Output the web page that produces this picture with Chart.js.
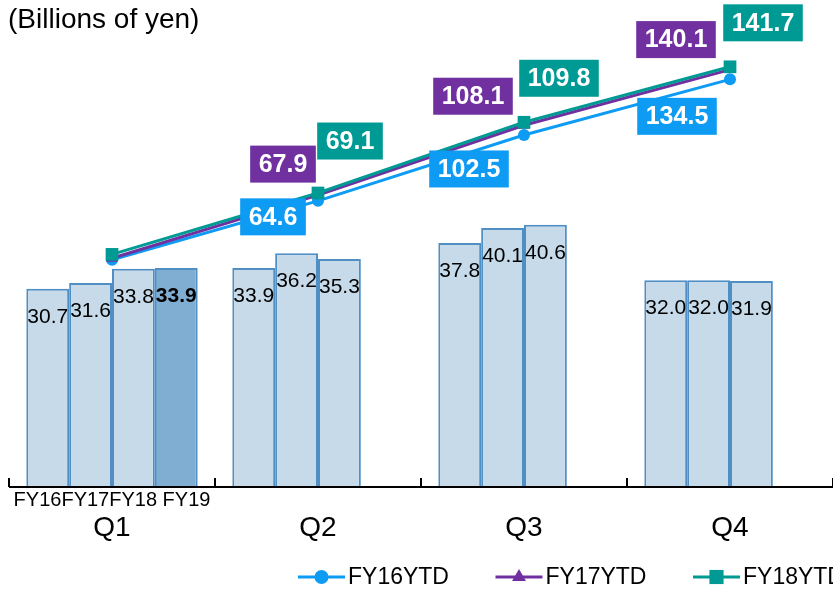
<!DOCTYPE html>
<html>
<head>
<meta charset="utf-8">
<script src="https://cdn.jsdelivr.net/npm/chart.js@4.4.1/dist/chart.umd.min.js"></script>
<style>
  body { margin: 0; background: #fff; }
  #wrap { position: relative; width: 833px; height: 589px; }
  #unit { position: absolute; left: 8px; top: 3px; font: 28px 'Liberation Sans', Arial, sans-serif; line-height: 32px; color: #000; }
  canvas { position: absolute; left: 0; top: 0; }
</style>
</head>
<body>
<div id="wrap">
  <canvas id="salesChart" width="833" height="589"></canvas>
  <div id="unit">(Billions of yen)</div>
</div>
<script>
// Quarterly sales (bars) and year-to-date totals (lines)
const quarters = ['Q1', 'Q2', 'Q3', 'Q4'];
const fyRowLabel = 'FY16FY17FY18 FY19';

const fy16 = [30.7, 33.9, 37.8, 32.0];
const fy17 = [31.6, 36.2, 40.1, 32.0];
const fy18 = [33.8, 35.3, 40.6, 31.9];
const fy19 = [33.9, null, null, null];

const fy16Ytd = [30.7, 64.6, 102.5, 134.5];
const fy17Ytd = [31.6, 67.9, 108.1, 140.1];
const fy18Ytd = [33.8, 69.1, 109.8, 141.7];

const colors = {
    barFill: '#c6daea',
    barFillCurrent: '#80aed2',
    barBorder: '#4f8fc4',
    fy16: '#0d9bf3',
    fy17: '#7030a0',
    fy18: '#009a95'
};

const FONT = "'Liberation Sans', Arial, sans-serif";
Chart.defaults.font.family = FONT;

// Where each YTD box sits relative to its point (Q1 has none)
const boxOffsets = {
    FY16YTD: [null, [-45, 16], [-55, 34], [-53, 37]],
    FY17YTD: [null, [-35, -31], [-51, -29], [-54, -30]],
    FY18YTD: [null, [32, -52], [35, -44], [33, -44]]
};

function barSet(label, data, fill, bold) {
    return {
        type: 'bar',
        label: label,
        data: data,
        yAxisID: 'y',
        backgroundColor: fill,
        borderColor: colors.barBorder,
        borderWidth: 2,
        categoryPercentage: 0.832,
        barPercentage: 1,
        order: 5,
        boldLabel: bold
    };
}

function lineSet(label, data, color, style, radius, order) {
    return {
        type: 'line',
        label: label,
        data: data,
        yAxisID: 'y2',
        borderColor: color,
        backgroundColor: color,
        borderWidth: 3,
        pointStyle: style,
        pointRadius: radius,
        pointBorderWidth: 0,
        tension: 0,
        order: order
    };
}

const lineDatasets = [
    lineSet('FY16YTD', fy16Ytd, colors.fy16, 'circle', 6, 2),
    lineSet('FY17YTD', fy17Ytd, colors.fy17, 'triangle', 7, 1),
    lineSet('FY18YTD', fy18Ytd, colors.fy18, 'rect', 9, 0)
];

const labelsPlugin = {
    id: 'labelsPlugin',
    afterDatasetsDraw(chart) {
        const ctx = chart.ctx;
        const area = chart.chartArea;
        const x = chart.scales.x;
        ctx.save();

        // axis line and small inward ticks between quarters
        ctx.strokeStyle = '#000';
        ctx.lineWidth = 2;
        ctx.beginPath();
        ctx.moveTo(x.getPixelForValue(-0.5), area.bottom);
        ctx.lineTo(chart.width, area.bottom);
        ctx.stroke();
        for (let i = 0; i <= quarters.length; i++) {
            const px = Math.round(x.getPixelForValue(i - 0.5));
            ctx.beginPath();
            ctx.moveTo(px, area.bottom);
            ctx.lineTo(px, area.bottom - 9);
            ctx.stroke();
        }

        // fiscal year row under Q1, quarter names below
        ctx.fillStyle = '#000';
        ctx.textAlign = 'center';
        ctx.textBaseline = 'middle';
        ctx.font = '20px ' + FONT;
        ctx.fillText(fyRowLabel, x.getPixelForValue(0), area.bottom + 13);
        ctx.font = '28px ' + FONT;
        quarters.forEach((q, i) => {
            ctx.fillText(q, x.getPixelForValue(i), area.bottom + 41);
        });

        // bar values
        chart.data.datasets.forEach((ds, di) => {
            if (ds.type !== 'bar') return;
            const meta = chart.getDatasetMeta(di);
            ctx.font = (ds.boldLabel ? 'bold ' : '') + '21px ' + FONT;
            meta.data.forEach((bar, i) => {
                const v = ds.data[i];
                if (v === null) return;
                ctx.fillText(v.toFixed(1), bar.x, bar.y + 28);
            });
        });

        // YTD boxes
        ctx.font = 'bold 25px ' + FONT;
        chart.data.datasets.forEach((ds, di) => {
            if (ds.type !== 'line') return;
            const meta = chart.getDatasetMeta(di);
            const offs = boxOffsets[ds.label];
            meta.data.forEach((pt, i) => {
                if (!offs[i]) return;
                const txt = ds.data[i].toFixed(1);
                const w = ctx.measureText(txt).width + 17;
                const h = 37;
                const cx = pt.x + offs[i][0];
                const cy = pt.y + offs[i][1];
                ctx.fillStyle = ds.borderColor;
                ctx.fillRect(cx - w / 2, cy - h / 2, w, h);
                ctx.fillStyle = '#fff';
                ctx.fillText(txt, cx, cy + 1);
            });
        });

        // legend with line + marker
        const legendX = 298, legendY = 577, step = 197.5;
        ctx.font = '23px ' + FONT;
        ctx.textAlign = 'left';
        lineDatasets.forEach((ds, i) => {
            const lx = legendX + i * step;
            ctx.strokeStyle = ds.borderColor;
            ctx.lineWidth = 3;
            ctx.beginPath();
            ctx.moveTo(lx, legendY);
            ctx.lineTo(lx + 47, legendY);
            ctx.stroke();
            ctx.fillStyle = ds.borderColor;
            Chart.helpers.drawPoint(ctx, {
                pointStyle: ds.pointStyle,
                radius: ds.pointRadius + 1,
                rotation: 0,
                borderWidth: 0
            }, lx + 23.5, legendY);
            ctx.fillStyle = '#000';
            ctx.fillText(ds.label, lx + 50, legendY + 1);
        });

        ctx.restore();
    }
};

new Chart(document.getElementById('salesChart'), {
    data: {
        labels: quarters,
        datasets: [
            ...lineDatasets,
            barSet('FY16', fy16, colors.barFill, false),
            barSet('FY17', fy17, colors.barFill, false),
            barSet('FY18', fy18, colors.barFill, false),
            barSet('FY19', fy19, colors.barFillCurrent, true)
        ]
    },
    options: {
        responsive: false,
        animation: false,
        layout: {
            autoPadding: false,
            padding: { top: 35, left: 9, right: -3, bottom: 102 }
        },
        plugins: {
            legend: { display: false },
            tooltip: { enabled: false }
        },
        scales: {
            x: {
                display: false,
                offset: true
            },
            y: {
                display: false,
                min: 0,
                max: 70
            },
            y2: {
                display: false,
                min: -100,
                max: 160
            }
        }
    },
    plugins: [labelsPlugin]
});
</script>
</body>
</html>
